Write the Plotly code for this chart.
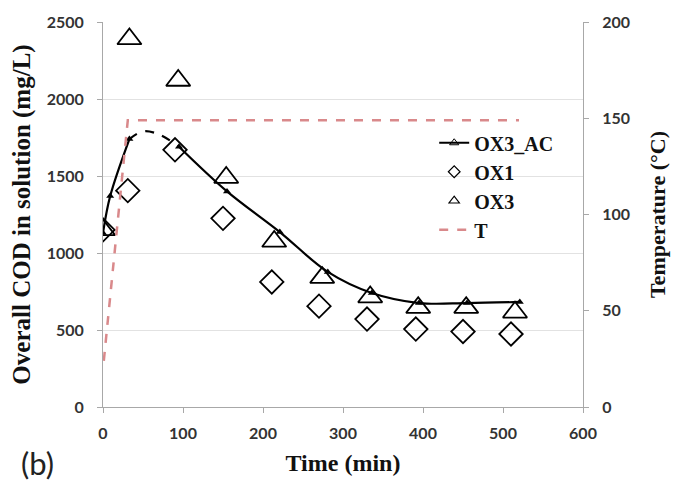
import plotly.graph_objects as go

# ---- data ----
# OX1 (diamonds)
ox1_t = [0, 31, 90, 150, 211, 270, 330, 391, 450, 510]
ox1_cod = [1150, 1405, 1670, 1225, 812, 655, 571, 506, 490, 474]

# OX3 (triangles)
ox3_t = [0, 33, 94, 154, 214, 274, 334, 394, 454, 515]
ox3_cod = [1150, 2390, 2120, 1490, 1075, 840, 714, 645, 645, 615]

# OX3_AC model (solid parts, with a gap where it is dashed)
ac_t = [0, 9, 33, None, 95, 155, 221, 281, 336, 395, 455, 521]
ac_cod = [1130, 1370, 1740, None, 1690, 1400, 1136, 877, 740, 675, 675, 682]

# OX3_AC dashed segment
acd_t = [33, 50, 70, 95]
acd_cod = [1740, 1790, 1770, 1690]

# Temperature
T_t = [1, 31, 520]
T_val = [24, 149, 149]

xticks = [0, 100, 200, 300, 400, 500, 600]
yticks = [0, 500, 1000, 1500, 2000, 2500]
y2ticks = [0, 50, 100, 150, 200]

serif = "Liberation Serif"
sans = "Lato"

fig = go.Figure()

fig.add_trace(go.Scatter(x=T_t, y=T_val, yaxis="y2", mode="lines",
                         line=dict(color="#d9898b", width=2.5, dash="dash"),
                         showlegend=False))

fig.add_trace(go.Scatter(x=ox1_t, y=ox1_cod, mode="markers",
                         marker=dict(symbol="diamond-open", size=18, color="black",
                                     line=dict(width=1.8, color="black")),
                         showlegend=False))
fig.add_trace(go.Scatter(x=ox3_t, y=ox3_cod, mode="markers",
                         marker=dict(symbol="triangle-up-open", size=21, color="black",
                                     line=dict(width=1.8, color="black")),
                         showlegend=False))

fig.add_trace(go.Scatter(x=acd_t, y=acd_cod, mode="lines", line_shape="spline",
                         line=dict(color="black", width=2.2, dash="dash"),
                         showlegend=False))
fig.add_trace(go.Scatter(x=ac_t, y=ac_cod, mode="lines+markers", line_shape="spline",
                         connectgaps=False,
                         line=dict(color="black", width=2.2),
                         marker=dict(symbol="triangle-up", size=7, color="black"),
                         showlegend=False))

# legend entries
fig.add_trace(go.Scatter(x=[None], y=[None], mode="lines+markers", name="OX3_AC",
                         line=dict(color="black", width=2.2),
                         marker=dict(symbol="triangle-up-open", size=8, color="black")))
fig.add_trace(go.Scatter(x=[None], y=[None], mode="markers", name="OX1",
                         marker=dict(symbol="diamond-open", size=9, color="black",
                                     line=dict(width=1.2, color="black"))))
fig.add_trace(go.Scatter(x=[None], y=[None], mode="markers", name="OX3",
                         marker=dict(symbol="triangle-up-open", size=9, color="black",
                                     line=dict(width=1.2, color="black"))))
fig.add_trace(go.Scatter(x=[None], y=[None], mode="lines", name="T",
                         line=dict(color="#d9898b", width=2.5, dash="dash")))

axis_common = dict(showline=True, linecolor="#a8a8a8", linewidth=1,
                   ticks="outside", tickcolor="#a8a8a8", ticklen=5,
                   tickfont=dict(family=sans, size=16, color="#333", weight="bold"),
                   zeroline=False, automargin=False)

fig.update_layout(
    width=684, height=482,
    margin=dict(l=95, r=109, t=14, b=83, autoexpand=False),
    paper_bgcolor="white", plot_bgcolor="white",
    xaxis=dict(range=[0, 600], tickvals=xticks, showgrid=False, ticklabelstandoff=7,
               title=dict(text="Time (min)",
                          font=dict(family=serif, size=24, color="#111", weight="bold"),
                          standoff=12),
               **axis_common),
    yaxis=dict(range=[0, 2500], tickvals=yticks, showgrid=True, gridcolor="#e2e2e2",
               ticklabelstandoff=10,
               title=dict(text="Overall COD in solution (mg/L)",
                          font=dict(family=serif, size=25, color="#111", weight="bold"),
                          standoff=16),
               **axis_common),
    yaxis2=dict(range=[0, 200], tickvals=y2ticks, overlaying="y", side="right",
                showgrid=False, ticklabelstandoff=10,
                title=dict(text="Temperature (°C)",
                           font=dict(family=serif, size=22, color="#111", weight="bold"),
                           standoff=20),
                **axis_common),
    legend=dict(x=0.69, y=0.737, xanchor="left", yanchor="top",
                bgcolor="rgba(255,255,255,0)",
                font=dict(family=serif, size=20, color="#111", weight="bold"),
                tracegroupgap=0, itemwidth=30),
    showlegend=True,
    annotations=[dict(text="(b)", x=-0.1375, y=-0.145, xref="paper", yref="paper",
                      xanchor="center", yanchor="middle", showarrow=False,
                      font=dict(family=sans, size=31, color="#222"))],
)

fig.write_html("out.html")
